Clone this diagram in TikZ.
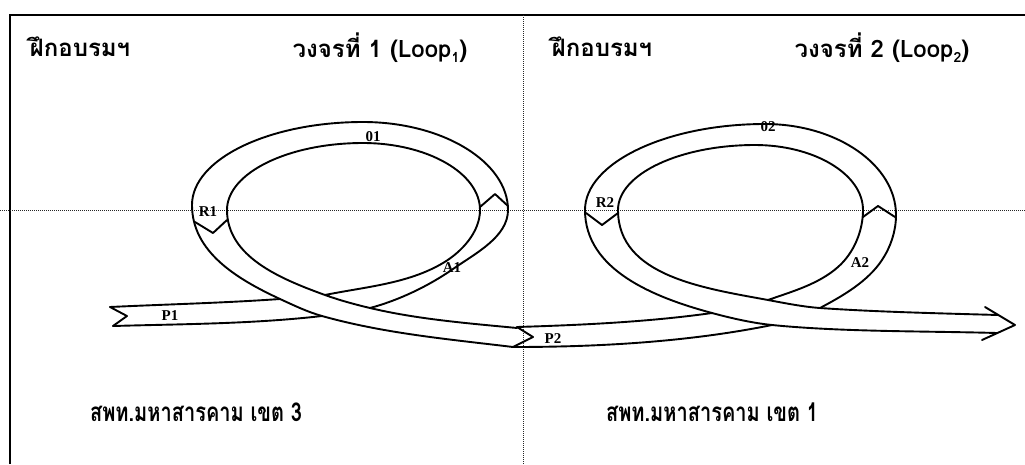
\documentclass[tikz,border=0pt]{standalone}
\usepackage{fontspec}
\setmainfont{Liberation Serif}
\newfontfamily\thaifont[Script=Thai]{Loma}
\newfontfamily\lblfont{Liberation Serif}
\newcommand{\lpsub}[1]{\raisebox{-0.35ex}{\fontsize{14}{14}\selectfont #1}}
\begin{document}
\begin{tikzpicture}[x=1pt,y=-1pt,
  edge/.style={line width=1.9pt, line join=round, line cap=round},
  frameline/.style={line width=2pt},
  guide/.style={densely dotted, line width=1pt, black!85},
  lbl/.style={font=\lblfont\bfseries\fontsize{15}{15}\selectfont, inner sep=0pt},
  ttl/.style={font=\thaifont\bfseries\fontsize{24}{26}\selectfont, inner sep=0pt},
  btl/.style={font=\thaifont\bfseries\fontsize{20}{22}\selectfont, inner sep=0pt, yscale=1.3}]
\useasboundingbox (0,0) rectangle (1025,464);
\fill[white] (0,0) rectangle (1025,464);
% frame and guides
\draw[frameline] (10,464) -- (10,15) -- (1025,15);
\draw[guide] (523,15) -- (523,464);
\draw[guide] (0,210) -- (1025,210);
% ---------- Loop 1 ----------
\draw[edge] (110,307) .. controls +(57,-2.7) and +(-57,4) .. (280,299);
\draw[edge] (325,295) .. controls +(40,-8.2) and +(-35.3,20.9) .. (443,263)
  .. controls +(18.9,-11.2) and +(0,22) .. (480,210)
  .. controls +(0,-37) and +(64,0) .. (363,143)
  .. controls +(-75,0) and +(0,-37) .. (227,210)
  .. controls +(0,47) and +(-44,-16) .. (325,295)
  .. controls +(15,5.4) and +(-15.5,-3.7) .. (370,308)
  .. controls +(47.5,11.3) and +(-48.8,-4.7) .. (517,328);
\draw[edge] (113,326) .. controls +(70,-2) and +(-70,8) .. (322,316);
\draw[edge] (370,308) .. controls +(29,-7.8) and +(-24.6,17.1) .. (453,269)
  .. controls +(22,-15.4) and +(0,27) .. (508,210)
  .. controls +(0,-48) and +(80,0) .. (363,122)
  .. controls +(-94,0) and +(0,-46) .. (192,205)
  .. controls +(0,47) and +(-43,-20) .. (280,299)
  .. controls +(13.7,6.3) and +(-14.4,-4) .. (322,316)
  .. controls +(62.4,17.5) and +(-64.4,-7.8) .. (513,347);
\draw[edge] (110,307) -- (127,316) -- (113,326);
\draw[edge] (195,222) -- (213,233) -- (227,220);
\draw[edge] (480,207) -- (495,194) -- (508,206);
\draw[edge] (517,327) -- (533,337) -- (513,347);
% ---------- Loop 2 ----------
\draw[edge] (517,327) .. controls +(65,-2) and +(-64,9) .. (712,313);
\draw[edge] (768,300) .. controls +(24.4,-8.6) and +(-19.5,17.2) .. (838,267)
  .. controls +(15.8,-13.9) and +(0,21) .. (863,210)
  .. controls +(0,-36) and +(59,0) .. (755,145)
  .. controls +(-75,0) and +(0,-36) .. (618,210)
  .. controls +(0,66) and +(-64.7,-11.9) .. (768,300)
  .. controls +(16.7,3.1) and +(-17,-1.2) .. (820,308)
  .. controls +(55,3.9) and +(-55,-1.6) .. (998,315);
\draw[edge] (513,347) .. controls +(86,0) and +(-84,17) .. (772,325);
\draw[edge] (820,308) .. controls +(22.9,-12.2) and +(-14.3,21.6) .. (882,260)
  .. controls +(8.8,-13.3) and +(0,16) .. (896,215)
  .. controls +(0,-50) and +(72,0) .. (765,124)
  .. controls +(-99,0) and +(0,-47) .. (585,210)
  .. controls +(0,60) and +(-58,-15.6) .. (712,313)
  .. controls +(19.3,5.2) and +(-19.8,-2) .. (772,325)
  .. controls +(70,7) and +(-71,-2) .. (997,333);
\draw[edge] (586,213) -- (602,225) -- (618,213);
\draw[edge] (863,217) -- (878,206) -- (895,217);
\draw[edge] (985,307) -- (1015,325) -- (982,340);
% ---------- labels ----------
\node[lbl] (o1) at (373,137) {01};
\node[lbl] (r1) at (208,212) {R1};
\node[lbl] (a1) at (452,268) {A1};
\node[lbl] (p1) at (170,316) {P1};
\node[lbl] (o2) at (768,127) {02};
\node[lbl] (r2) at (605,203) {R2};
\node[lbl] (a2) at (860,263) {A2};
\node[lbl] (p2) at (553,339) {P2};
% ---------- titles ----------
\node[ttl] (t1) at (80,47) {ฝึกอบรมฯ};
\node[ttl] (t2) at (380,48) {วงจรที่ 1 (Loop\lpsub{1})};
\node[ttl] (t3) at (602,47) {ฝึกอบรมฯ};
\node[ttl] (t4) at (882,48) {วงจรที่ 2 (Loop\lpsub{2})};
\node[btl] (b1) at (196,412) {สพท.มหาสารคาม เขต 3};
\node[btl] (b2) at (712,412) {สพท.มหาสารคาม เขต 1};
\end{tikzpicture}
\end{document}
